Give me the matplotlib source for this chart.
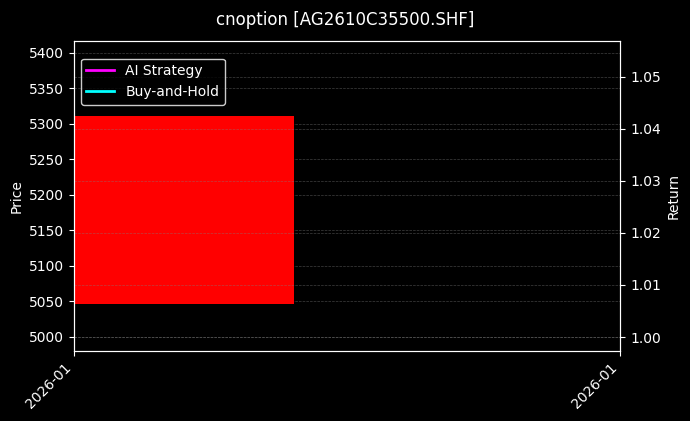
import numpy as np
import matplotlib
matplotlib.use("Agg")
import matplotlib.pyplot as plt
import matplotlib.dates as mdates
import datetime as dt

plt.style.use("dark_background")

# data
dates = [dt.datetime(2026, 1, 5)]
price_open = [5311.0]
price_close = [5047.0]
ai_return = [1.0]
bh_return = [1.0]
title = "cnoption [AG2610C35500.SHF]"

fig = plt.figure(figsize=(6.9, 4.21), dpi=100)
fig.patch.set_facecolor("black")
ax = fig.add_axes([0.107, 0.166, 0.792, 0.737])
ax.set_facecolor("black")

x = mdates.date2num(dates)
w = 0.8
lo = np.minimum(price_open, price_close)
hi = np.maximum(price_open, price_close)
ax.bar(x, hi - lo, bottom=lo, width=w, color="red", align="center", zorder=2)

x0 = x[0] - w / 2
x1 = x0 + w / 0.403
ax.set_xlim(x0, x1)
ax.set_xticks([x0, x1])
ax.xaxis.set_major_formatter(mdates.DateFormatter("%Y-%m"))
plt.setp(ax.get_xticklabels(), rotation=45, ha="right")

ax.set_ylim(4980, 5417)
ax.set_yticks(np.arange(5000, 5401, 50))
ax.set_ylabel("Price", fontsize=10)
ax.grid(True, axis="y", linestyle="--", linewidth=0.5, color="gray", alpha=0.5)

ax2 = ax.twinx()
l1, = ax2.plot(x, ai_return, color="magenta", linewidth=2, label="AI Strategy")
l2, = ax2.plot(x, bh_return, color="cyan", linewidth=2, label="Buy-and-Hold")
ax2.set_ylim(0.9973, 1.0569)
ax2.set_yticks(np.arange(1.00, 1.051, 0.01))
ax2.yaxis.set_major_formatter(matplotlib.ticker.FormatStrFormatter("%.2f"))
ax2.set_ylabel("Return", fontsize=10)
ax2.grid(True, linestyle="--", linewidth=0.5, color="gray", alpha=0.5)

for a in (ax, ax2):
    for s in a.spines.values():
        s.set_color("white")

leg = ax2.legend([l1, l2], ["AI Strategy", "Buy-and-Hold"], loc="upper left",
                 bbox_to_anchor=(0, 0.965), facecolor="black", edgecolor="white",
                 fontsize=10)
leg.get_frame().set_alpha(0.8)

fig.suptitle(title, fontsize=12, y=0.975)

plt.savefig("out.png", dpi=100, facecolor="black")
